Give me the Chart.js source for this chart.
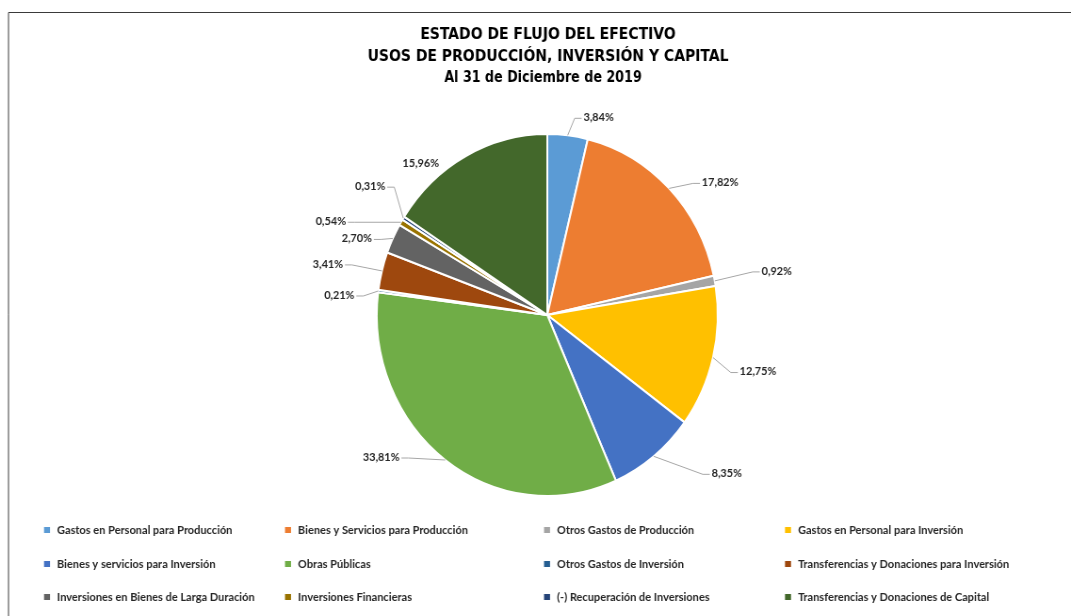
<!DOCTYPE html>
<html>
<head>
<meta charset="utf-8">
<script src="https://cdn.jsdelivr.net/npm/chart.js@4.4.1/dist/chart.umd.min.js"></script>
<style>
  html, body { margin: 0; padding: 0; background: #ffffff; overflow: hidden; }
  #c { display: block; }
</style>
</head>
<body>
<canvas id="c" width="1137" height="616" style="width:1071px;height:616px;"></canvas>
<script>
// ---- data ----
const categories = [
  "Gastos en Personal para Producción",
  "Bienes y Servicios para Producción",
  "Otros Gastos de Producción",
  "Gastos en Personal para Inversión",
  "Bienes y servicios para Inversión",
  "Obras Públicas",
  "Otros Gastos de Inversión",
  "Transferencias y Donaciones para Inversión",
  "Inversiones en Bienes de Larga Duración",
  "Inversiones Financieras",
  "(-) Recuperación de Inversiones",
  "Transferencias y Donaciones de Capital"
];
const percentValues = [3.84, 17.82, 0.92, 12.75, 8.35, 33.81, 0.21, 3.41, 2.70, 0.54, 0.31, 15.96];
const valueLabels = ["3,84%", "17,82%", "0,92%", "12,75%", "8,35%", "33,81%", "0,21%", "3,41%", "2,70%", "0,54%", "0,31%", "15,96%"];
const titleLines = ["ESTADO DE FLUJO DEL EFECTIVO", "USOS DE PRODUCCIÓN, INVERSIÓN Y CAPITAL"];
const subtitleText = "Al 31 de Diciembre de 2019";

// ---- styles ----
const sliceColors = ["#5B9BD5", "#ED7D31", "#A5A5A5", "#FFC000", "#4472C4", "#70AD47",
                     "#255E91", "#9E480E", "#636363", "#997300", "#264478", "#43682B"];
// label offset from slice edge (display px) and whether a leader line is drawn
const labelOffsets = [[31,-18],[51,-6],[62,-10],[45,14],[73,17],[-64,-3],[-39,4],[-54,-7],[-36,0],[-70,-1],[-33,-32],[-45,7]];
const showLeader = [true,true,true,true,true,true,true,true,true,true,true,false];

const W = 1137, H = 616, DW = 1071;
const sx = W / DW; // horizontal scale (canvas is compressed horizontally on display)
const X = v => v * sx;

const LABEL_FONT = "bold 11.5px Lato, 'Open Sans', sans-serif";
const LEGEND_FONT = "bold 11.7px Lato, 'Open Sans', sans-serif";

const decorPlugin = {
  id: 'decor',
  afterDraw(chart) {
    const ctx = chart.ctx;
    ctx.save();
    // frame
    ctx.strokeStyle = '#3a3a3a';
    ctx.lineWidth = 1;
    ctx.beginPath();
    ctx.moveTo(X(8.5), H);
    ctx.lineTo(X(8.5), 12.5);
    ctx.lineTo(W, 12.5);
    ctx.stroke();

    // titles
    ctx.fillStyle = '#000000';
    ctx.textAlign = 'center';
    ctx.textBaseline = 'middle';
    ctx.font = "bold 16.5px 'DejaVu Sans Condensed', 'DejaVu Sans', sans-serif";
    ctx.fillText(titleLines[0], X(548), 35);
    ctx.fillText(titleLines[1], X(548), 57);
    ctx.font = "bold 15px 'DejaVu Sans Condensed', 'DejaVu Sans', sans-serif";
    ctx.fillText(subtitleText, X(543), 78);

    // data labels with leader lines
    const meta = chart.getDatasetMeta(0);
    ctx.font = LABEL_FONT;
    meta.data.forEach((arc, i) => {
      const p = arc.getProps(['x','y','startAngle','endAngle','outerRadius'], true);
      const mid = (p.startAngle + p.endAngle) / 2;
      const ax = p.x + Math.cos(mid) * p.outerRadius;
      const ay = p.y + Math.sin(mid) * p.outerRadius;
      const lx = ax + X(labelOffsets[i][0]);
      const ly = ay + labelOffsets[i][1];
      const txt = valueLabels[i];
      const w = ctx.measureText(txt).width;
      if (showLeader[i]) {
        const dir = labelOffsets[i][0] > 0 ? 1 : -1;
        const ex = lx - dir * (w / 2 + 2);
        const ey = ly + 1;
        ctx.strokeStyle = '#A6A6A6';
        ctx.lineWidth = 1;
        ctx.beginPath();
        ctx.moveTo(ax, ay);
        ctx.lineTo(ex - dir * X(7), ey);
        ctx.lineTo(ex, ey);
        ctx.stroke();
      }
      ctx.fillStyle = '#262626';
      ctx.textAlign = 'center';
      ctx.textBaseline = 'middle';
      ctx.fillText(txt, lx, ly);
    });

    // legend (4 columns x 3 rows)
    const colX = [47, 288, 547, 788];
    const rowY = [530, 564, 597];
    ctx.font = LEGEND_FONT;
    ctx.textAlign = 'left';
    ctx.textBaseline = 'middle';
    categories.forEach((name, i) => {
      const c = i % 4, r = Math.floor(i / 4);
      const mx = X(colX[c]), my = rowY[r];
      ctx.fillStyle = sliceColors[i];
      ctx.fillRect(mx - X(3), my - 3, X(6), 6);
      ctx.fillStyle = '#262626';
      ctx.fillText(name, mx + X(10), my + 0.5);
    });
    ctx.restore();
  }
};

new Chart(document.getElementById('c'), {
  type: 'pie',
  data: {
    labels: categories,
    datasets: [{
      data: percentValues,
      backgroundColor: sliceColors,
      borderColor: '#ffffff',
      borderWidth: 2,
      hoverOffset: 0
    }]
  },
  options: {
    responsive: false,
    devicePixelRatio: 1,
    animation: false,
    events: [],
    layout: { padding: { top: 133, bottom: 119, left: 399, right: 374 } },
    plugins: {
      legend: { display: false },
      title: { display: false },
      tooltip: { enabled: false }
    }
  },
  plugins: [decorPlugin]
});
</script>
</body>
</html>
